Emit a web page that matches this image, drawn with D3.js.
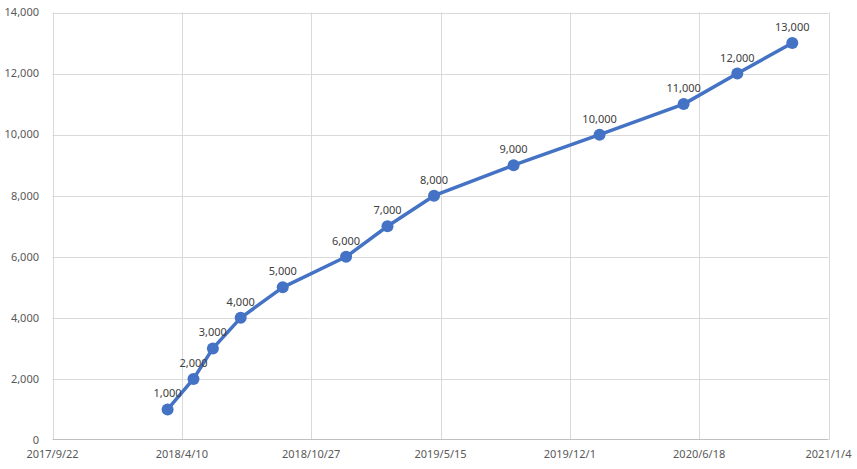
<!DOCTYPE html>
<html>
<head>
<meta charset="utf-8">
<script src="https://cdn.jsdelivr.net/npm/d3@7"></script>
<style>
  html, body { margin: 0; padding: 0; background: #fff; }
  svg { display: block; }
  text { font-family: "Noto Sans", "Open Sans", sans-serif; }
</style>
</head>
<body>
<svg id="chart" width="857" height="469"></svg>
<script>
const dates = ["2018/3/19","2018/4/28","2018/5/28","2018/7/10","2018/9/13","2018/12/20","2019/2/22","2019/5/5","2019/9/5","2020/1/16","2020/5/25","2020/8/16","2020/11/9"];
const values = [1000,2000,3000,4000,5000,6000,7000,8000,9000,10000,11000,12000,13000];
const xTickLabels = ["2017/9/22","2018/4/10","2018/10/27","2019/5/15","2019/12/1","2020/6/18","2021/1/4"];
const yTicks = [0,2000,4000,6000,8000,10000,12000,14000];

(function () {
const parse = d3.utcParse("%Y/%-m/%-d");
const data = dates.map((d, i) => ({ date: parse(d), value: values[i] }));
const xTickDates = xTickLabels.map(parse);

const svg = d3.select("#chart");
const pLeft = 52.5, pRight = 828.5, pTop = 12.5, pBottom = 440;

const x = d3.scaleUtc().domain([xTickDates[0], xTickDates[xTickDates.length - 1]]).range([pLeft, pRight]);
const y = d3.scaleLinear().domain([0, 14000]).range([pBottom, pTop]);
const fmt = d3.format(",");

// horizontal gridlines
svg.append("g").selectAll("line").data(yTicks.filter(v => v > 0)).join("line")
  .attr("x1", pLeft).attr("x2", pRight)
  .attr("y1", d => Math.round(y(d)) + 0.5).attr("y2", d => Math.round(y(d)) + 0.5)
  .attr("stroke", "#d9d9d9").attr("stroke-width", 1);

// vertical gridlines
svg.append("g").selectAll("line").data(xTickDates).join("line")
  .attr("x1", d => Math.round(x(d)) + 0.5).attr("x2", d => Math.round(x(d)) + 0.5)
  .attr("y1", pTop).attr("y2", pBottom)
  .attr("stroke", "#d9d9d9").attr("stroke-width", 1);

// bottom axis line
svg.append("line")
  .attr("x1", pLeft).attr("x2", pRight)
  .attr("y1", Math.round(pBottom) - 0.5).attr("y2", Math.round(pBottom) - 0.5)
  .attr("stroke", "#bfbfbf").attr("stroke-width", 1);

// y axis labels
svg.append("g").selectAll("text").data(yTicks).join("text")
  .attr("x", 39).attr("y", d => y(d))
  .attr("dy", "0.35em")
  .attr("text-anchor", "end")
  .attr("font-size", 11)
  .attr("fill", "#595959")
  .text(d => fmt(d));

// x axis labels
svg.append("g").selectAll("text").data(xTickDates).join("text")
  .attr("x", d => x(d)).attr("y", 458)
  .attr("text-anchor", "middle")
  .attr("font-size", 11)
  .attr("fill", "#595959")
  .text((d, i) => xTickLabels[i]);

// line
const line = d3.line().x(d => x(d.date)).y(d => y(d.value));
svg.append("path").datum(data)
  .attr("d", line)
  .attr("fill", "none")
  .attr("stroke", "#4472C4")
  .attr("stroke-width", 3.5)
  .attr("stroke-linejoin", "round");

// markers
svg.append("g").selectAll("circle").data(data).join("circle")
  .attr("cx", d => x(d.date)).attr("cy", d => y(d.value))
  .attr("r", 6)
  .attr("fill", "#4472C4");

// data labels
svg.append("g").selectAll("text").data(data).join("text")
  .attr("x", d => x(d.date)).attr("y", d => y(d.value) - 12)
  .attr("text-anchor", "middle")
  .attr("font-size", 11)
  .attr("fill", "#404040")
  .text(d => fmt(d.value));
})();
</script>
</body>
</html>
